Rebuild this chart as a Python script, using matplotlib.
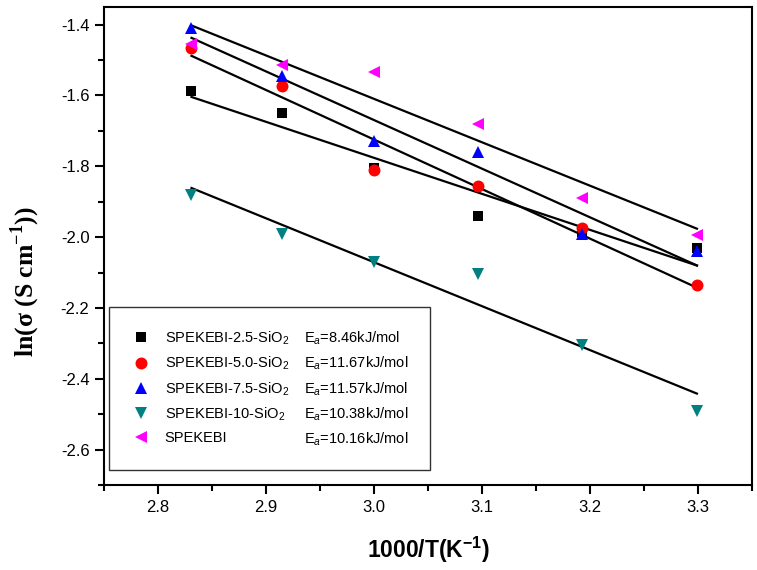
import numpy as np
import matplotlib
matplotlib.use('Agg')
import matplotlib.pyplot as plt
from matplotlib.lines import Line2D
from matplotlib.ticker import MultipleLocator

# 1000/T values (K^-1)
inv_t = [2.831, 2.915, 3.000, 3.096, 3.193, 3.299]

# ln(sigma) for each membrane
ln_sig_25 = [-1.588, -1.649, -1.805, -1.940, -1.985, -2.030]
ln_sig_50 = [-1.466, -1.574, -1.810, -1.855, -1.975, -2.135]
ln_sig_75 = [-1.410, -1.546, -1.730, -1.760, -1.990, -2.040]
ln_sig_10 = [-1.880, -1.990, -2.070, -2.105, -2.305, -2.490]
ln_sig_0 = [-1.455, -1.513, -1.535, -1.680, -1.890, -1.995]

names = ['SPEKEBI-2.5-SiO$_2$', 'SPEKEBI-5.0-SiO$_2$', 'SPEKEBI-7.5-SiO$_2$',
         'SPEKEBI-10-SiO$_2$', 'SPEKEBI']
ea_labels = ['E$_a$=8.46kJ/mol', 'E$_a$=11.67kJ/mol', 'E$_a$=11.57kJ/mol',
             'E$_a$=10.38kJ/mol', 'E$_a$=10.16kJ/mol']

series = [ln_sig_25, ln_sig_50, ln_sig_75, ln_sig_10, ln_sig_0]
markers = ['s', 'o', '^', 'v', '<']
msizes = [7.7, 8.6, 8.6, 8.6, 8.6]
colors = ['#000000', '#ff0000', '#0000ff', '#008080', '#ff00ff']

plt.rcParams['font.family'] = ['Liberation Sans', 'DejaVu Sans']
plt.rcParams['mathtext.fontset'] = 'custom'
plt.rcParams['mathtext.rm'] = 'Liberation Sans'
plt.rcParams['mathtext.it'] = 'Liberation Sans:italic'

fig = plt.figure(figsize=(7.57, 5.70), dpi=100)
ax = fig.add_axes([0.1374, 0.149, 0.856, 0.839])

x = np.array(inv_t)
handles = []
for y, m, ms, c in zip(series, markers, msizes, colors):
    h, = ax.plot(x, y, linestyle='none', marker=m, color=c, markersize=ms,
                 markeredgewidth=0, zorder=3)
    handles.append(h)
    # linear Arrhenius fit
    k, b = np.polyfit(x, y, 1)
    ax.plot(x[[0, -1]], k * x[[0, -1]] + b, color='black', lw=1.6, zorder=2)

ax.set_xlim(2.75, 3.35)
ax.set_ylim(-2.70, -1.35)
ax.xaxis.set_major_locator(MultipleLocator(0.1))
ax.xaxis.set_minor_locator(MultipleLocator(0.05))
ax.yaxis.set_major_locator(MultipleLocator(0.2))
ax.yaxis.set_minor_locator(MultipleLocator(0.1))
ax.xaxis.set_major_formatter(plt.FuncFormatter(lambda v, p: f'{v:.1f}'))
ax.yaxis.set_major_formatter(plt.FuncFormatter(lambda v, p: f'{v:.1f}'))
ax.tick_params(which='major', direction='out', length=6.5, width=1.5,
               labelsize=12, pad=4, top=False, right=False)
ax.tick_params(which='minor', direction='out', length=4.5, width=1.5,
               top=False, right=False)
for sp in ax.spines.values():
    sp.set_linewidth(1.5)

ax.set_xlabel('1000/T(K$^{\\mathregular{-1}}$)', fontsize=16.5, fontweight='bold')
ax.xaxis.set_label_coords(0.5, -0.105)
ax.set_ylabel('ln(σ (S cm$^{\\mathregular{-1}}$))', fontsize=18.5,
              fontweight='bold', family=['Liberation Serif', 'DejaVu Serif'])
ax.yaxis.set_label_coords(-0.095, 0.425)

# two legend columns: marker + name, then activation energy
blank = [Line2D([], [], linestyle='none') for _ in ea_labels]
leg = ax.legend(handles + blank, names + ea_labels, ncol=2, loc='lower left',
                bbox_to_anchor=(0.008, 0.031), borderaxespad=0, fontsize=10.5,
                frameon=True, fancybox=False, edgecolor='#333333',
                framealpha=1, handlelength=1.4, handletextpad=0.9,
                columnspacing=-1.3, labelspacing=0.55, borderpad=1.5)
leg.get_frame().set_linewidth(1.0)

fig.savefig('out.png', dpi=100)
plt.close()
